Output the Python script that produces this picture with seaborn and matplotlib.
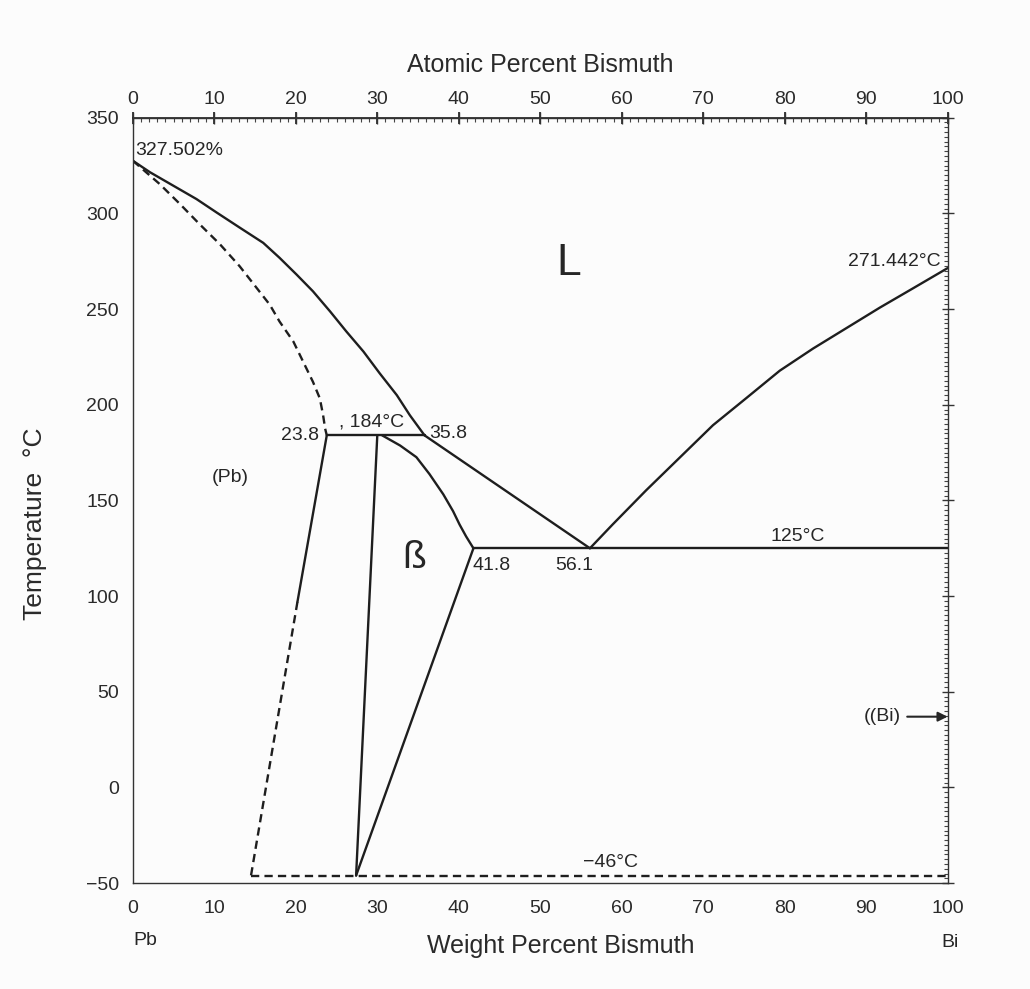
import numpy as np
import pandas as pd
import matplotlib
matplotlib.use("Agg")
import matplotlib.pyplot as plt
import seaborn as sns
from matplotlib.ticker import MultipleLocator

# Pb-Bi phase diagram (wt% Bi, deg C)
liq_pb_wt = [0, 2.1, 4.95, 7.8, 10.3, 13.1, 16.0, 18.0, 20.1, 22.1, 24.2, 26.2,
             28.3, 30.3, 32.4, 34.0, 35.8]
liq_pb_T = [327.5, 321.5, 314.5, 307.5, 300.4, 292.6, 284.6, 276.8, 268, 259.3,
            248.8, 238.3, 227.8, 216.4, 205, 194.5, 184]

sol_pb_wt = [0, 3.3, 5.8, 8.2, 10.7, 13.1, 15.2, 16.8, 18.0, 19.7, 20.9, 22.1,
             22.95, 23.35, 23.6, 23.8]
sol_pb_T = [327.5, 315.3, 304.8, 294.3, 283.8, 272.4, 261, 252.3, 243.5, 233,
            222.5, 212, 203.3, 194.5, 187.5, 184]

solvus_pb_wt = [23.8, 20.2]
solvus_pb_T = [184, 97]
solvus_pb_dash_wt = [20.2, 14.5]
solvus_pb_dash_T = [97, -46]

beta_left_wt = [30.0, 27.4]
beta_left_T = [184, -46]
beta_top_wt = [30.6, 32.8, 34.8, 36.4, 38.1, 39.3, 40.1, 40.9, 41.8]
beta_top_T = [184, 178.7, 172.6, 163.8, 153.2, 144.4, 137.4, 131.2, 125]
beta_right_wt = [41.8, 27.4]
beta_right_T = [125, -46]

perit_wt = [23.8, 35.8]
perit_T = [184, 184]
liq_mid_wt = [35.8, 56.1]
liq_mid_T = [184, 125]
eut_wt = [41.8, 100]
eut_T = [125, 125]
liq_bi_wt = [56.1, 58.9, 63.0, 67.1, 71.2, 75.3, 79.4, 83.5, 87.6, 91.7, 95.7, 100]
liq_bi_T = [125, 137.5, 155.3, 172.3, 189.3, 203.5, 217.8, 229.4, 240.1, 250.8,
            260.7, 271.4]
low_wt = [14.5, 100]
low_T = [-46, -46]

x_ticks = [0, 10, 20, 30, 40, 50, 60, 70, 80, 90, 100]
y_ticks = [-50, 0, 50, 100, 150, 200, 250, 300, 350]

sns.set_theme(style="white")
plt.rcParams["font.family"] = ["Liberation Sans", "DejaVu Sans"]

fig = plt.figure(figsize=(10.3, 9.89), dpi=100, facecolor="#fcfcfc")
ax = fig.add_axes([0.129, 0.107, 0.791, 0.774])
ax.set_facecolor("#fcfcfc")

ink = "#1e1e1e"
solid = [
    (liq_pb_wt, liq_pb_T), (solvus_pb_wt, solvus_pb_T), (beta_left_wt, beta_left_T),
    (beta_top_wt, beta_top_T), (beta_right_wt, beta_right_T), (perit_wt, perit_T),
    (liq_mid_wt, liq_mid_T), (eut_wt, eut_T), (liq_bi_wt, liq_bi_T),
]
dashed = [(sol_pb_wt, sol_pb_T), (solvus_pb_dash_wt, solvus_pb_dash_T), (low_wt, low_T)]

for xs, ys in solid:
    df = pd.DataFrame({"wt": xs, "T": ys})
    sns.lineplot(data=df, x="wt", y="T", sort=False, color=ink, lw=1.7, ax=ax)
for xs, ys in dashed:
    df = pd.DataFrame({"wt": xs, "T": ys})
    sns.lineplot(data=df, x="wt", y="T", sort=False, color=ink, lw=1.7, ax=ax,
                 linestyle=(0, (3.5, 2.2)))

ax.set_xlim(0, 100)
ax.set_ylim(-50, 350)
ax.set_xticks(x_ticks)
ax.set_yticks(y_ticks)
ax.set_yticklabels(["\u221250" if v == -50 else str(v) for v in y_ticks])
ax.xaxis.set_minor_locator(MultipleLocator(1))
ax.yaxis.set_minor_locator(MultipleLocator(2.5))
for s in ax.spines.values():
    s.set_color("#333333")
    s.set_linewidth(1.0)
ax.tick_params(axis="both", which="major", direction="inout", length=8, width=1,
               colors="#333333", labelsize=14, labelcolor="#2a2a2a",
               top=True, right=True, pad=8)
ax.tick_params(axis="y", which="major", pad=6)
ax.tick_params(axis="both", which="minor", direction="in", length=3, width=0.8,
               colors="#444444", top=True, right=True)

ax.set_xlabel("Weight Percent Bismuth", fontsize=18, color="#2a2a2a")
ax.xaxis.set_label_coords(0.525, -0.066)
ax.set_ylabel("Temperature  \u00b0C", fontsize=19, color="#2a2a2a")
ax.yaxis.set_label_coords(-0.105, 0.47)

top = ax.secondary_xaxis("top")
top.set_xticks(x_ticks)
top.tick_params(direction="inout", length=8, labelsize=14, labelcolor="#2a2a2a", pad=3)
top.set_xlabel("Atomic Percent Bismuth", fontsize=18, color="#2a2a2a", labelpad=14)

tc = "#262626"
ax.text(0.3, 333, "327.502%", fontsize=14, color=tc, ha="left", va="center")
ax.text(53.5, 274, "L", fontsize=32, color=tc, ha="center", va="center")
ax.text(99.2, 275, "271.442\u00b0C", fontsize=14, color=tc, ha="right", va="center")
ax.text(22.8, 184, "23.8", fontsize=14, color=tc, ha="right", va="center")
ax.text(25.3, 191, ", 184\u00b0C", fontsize=14, color=tc, ha="left", va="center")
ax.text(36.4, 185, "35.8", fontsize=14, color=tc, ha="left", va="center")
ax.text(11.9, 162, "(Pb)", fontsize=14, color=tc, ha="center", va="center")
ax.text(34.5, 120, "\u00df", fontsize=28, color=tc, ha="center", va="center")
ax.text(41.7, 116, "41.8", fontsize=14, color=tc, ha="left", va="center")
ax.text(51.9, 116, "56.1", fontsize=14, color=tc, ha="left", va="center")
ax.text(81.6, 131, "125\u00b0C", fontsize=14, color=tc, ha="center", va="center")
ax.text(58.6, -39, "\u221246\u00b0C", fontsize=14, color=tc, ha="center", va="center")
ax.annotate("((Bi)", xy=(100, 37), xytext=(94.3, 37), fontsize=14, color=tc,
            ha="right", va="center",
            arrowprops=dict(arrowstyle="-|>", color=tc, lw=1.5, shrinkA=2, shrinkB=0))
ax.text(1.5, -80, "Pb", fontsize=14, color=tc, ha="center", va="center")
ax.text(100.3, -81, "Bi", fontsize=14, color=tc, ha="center", va="center")

fig.savefig("out.png", dpi=100, facecolor=fig.get_facecolor())
